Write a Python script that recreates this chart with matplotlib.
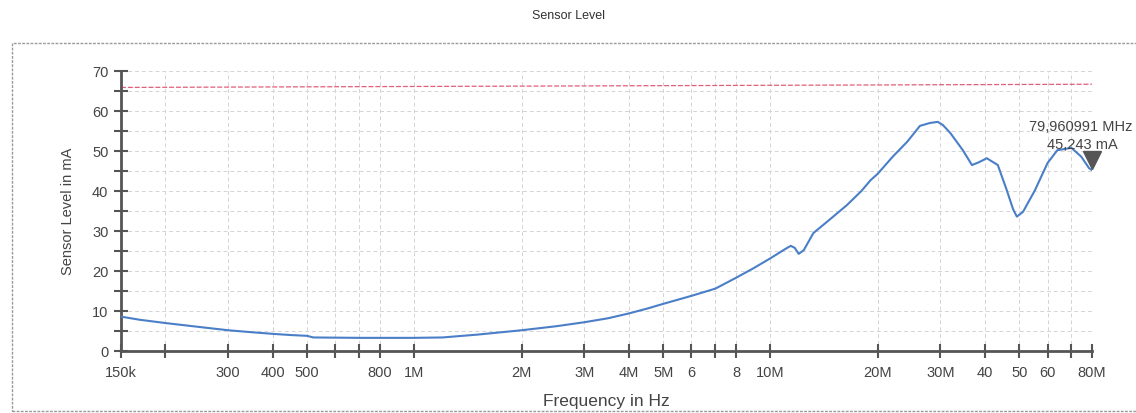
import numpy as np
import matplotlib
matplotlib.use("Agg")
import matplotlib.pyplot as plt
from matplotlib.patches import Rectangle
from matplotlib.ticker import FixedLocator, NullFormatter, MultipleLocator

plt.rcParams['font.family'] = ['Liberation Sans', 'DejaVu Sans']

# Messwerte (Frequenz in Hz, Pegel in mA)
freq = [150e3, 170e3, 200e3, 250e3, 300e3, 350e3, 400e3, 450e3, 500e3, 520e3,
        700e3, 1.0e6, 1.2e6, 1.5e6, 2.0e6, 2.5e6, 3.0e6, 3.5e6, 4.0e6, 4.5e6,
        5.0e6, 6.0e6, 7.0e6, 8.0e6, 9.0e6, 10.0e6, 11.0e6, 11.4e6, 11.7e6, 12.0e6,
        12.4e6, 13.2e6, 14.5e6, 16.4e6, 18.0e6, 19.1e6, 20.0e6, 22.0e6, 24.2e6, 26.3e6,
        28.0e6, 29.5e6, 30.5e6, 32.0e6, 34.7e6, 36.8e6, 38.5e6, 40.5e6, 43.5e6, 46.1e6,
        48.0e6, 49.2e6, 51.2e6, 55.3e6, 60.0e6, 63.9e6, 70.0e6, 74.6e6, 78.5e6, 79.960991e6]
level = [8.6, 7.8, 7.0, 6.0, 5.2, 4.7, 4.3, 4.0, 3.8, 3.4,
         3.3, 3.3, 3.4, 4.1, 5.2, 6.2, 7.2, 8.2, 9.4, 10.6,
         11.8, 13.8, 15.6, 18.3, 20.8, 23.2, 25.5, 26.3, 25.8, 24.3,
         25.2, 29.5, 32.5, 36.5, 40.0, 42.7, 44.3, 48.5, 52.3, 56.3,
         57.0, 57.3, 56.5, 54.5, 50.2, 46.5, 47.2, 48.2, 46.5, 40.2,
         35.5, 33.6, 34.8, 40.2, 47.0, 50.2, 50.8, 48.6, 45.7, 45.243]

# Grenzwertlinie
limit_freq = [150e3, 80e6]
limit_level = [65.9, 66.7]

# Marker
marker_freq = 79.960991e6
marker_level = 45.243

# x-Achse Ticks
xticks = [150e3, 200e3, 300e3, 400e3, 500e3, 600e3, 700e3, 800e3, 1e6,
          2e6, 3e6, 4e6, 5e6, 6e6, 7e6, 8e6, 10e6,
          20e6, 30e6, 40e6, 50e6, 60e6, 70e6, 80e6]
xlabels = ["150k", "", "300", "400", "500", "", "", "800", "1M",
           "2M", "3M", "4M", "5M", "6", "", "8", "10M",
           "20M", "30M", "40", "50", "60", "", "80M"]

axis_color = "#555555"
text_color = "#444444"

fig = plt.figure(figsize=(11.36, 4.13), dpi=100)
ax = fig.add_axes([0.1065, 0.150, 0.8548, 0.678])

ax.plot(freq, level, color="#4a7fc8", lw=1.5, zorder=3)
ax.plot(limit_freq, limit_level, color="#e0607a", lw=0.9, ls=(0, (4, 1.5)), zorder=2)

ax.set_xscale("log")
ax.set_xlim(150e3, 80e6)
ax.set_ylim(0, 70)

ax.xaxis.set_major_locator(FixedLocator(xticks))
ax.set_xticklabels(xlabels)
ax.xaxis.set_minor_locator(FixedLocator([]))
ax.xaxis.set_minor_formatter(NullFormatter())
ax.yaxis.set_major_locator(MultipleLocator(10))
ax.yaxis.set_minor_locator(MultipleLocator(5))

ax.grid(True, which="both", color="#d4d4d4", lw=0.7, ls=(0, (4, 3)))
ax.set_axisbelow(True)

for s in ["top", "right"]:
    ax.spines[s].set_visible(False)
for s in ["left", "bottom"]:
    ax.spines[s].set_color(axis_color)
    ax.spines[s].set_linewidth(2)

ax.tick_params(axis="both", which="both", direction="inout", color=axis_color,
               width=1.5, length=10, labelcolor=text_color, labelsize=10.5)
ax.tick_params(axis="x", pad=6)
ax.tick_params(axis="y", pad=4)

ax.set_xlabel("Frequency in Hz", fontsize=12.5, color=text_color, labelpad=10)
ax.set_ylabel("Sensor Level in mA", fontsize=10.5, color=text_color, labelpad=12)
fig.text(0.5, 0.962, "Sensor Level", ha="center", va="center", fontsize=9, color="#333333")

# Marker und Beschriftung
ax.plot([marker_freq], [47.8], marker="v", color="#555555", markersize=13, clip_on=False, zorder=4)
ax.annotate("79,960991 MHz", xy=(marker_freq, 56), xycoords="data",
            xytext=(41, 0), textcoords="offset pixels", ha="right", va="center",
            fontsize=10.5, color=text_color, annotation_clip=False)
ax.annotate("45,243 mA", xy=(marker_freq, 51.5), xycoords="data",
            xytext=(26, 0), textcoords="offset pixels", ha="right", va="center",
            fontsize=10.5, color=text_color, annotation_clip=False)

# Rahmen
frame = Rectangle((12 / 1136, 2 / 413), 1.1, 1 - 45 / 413, transform=fig.transFigure,
                  fill=False, ec="#999999", lw=1, ls=(0, (2, 1)))
fig.add_artist(frame)

fig.savefig("out.png", dpi=100, facecolor="white")
